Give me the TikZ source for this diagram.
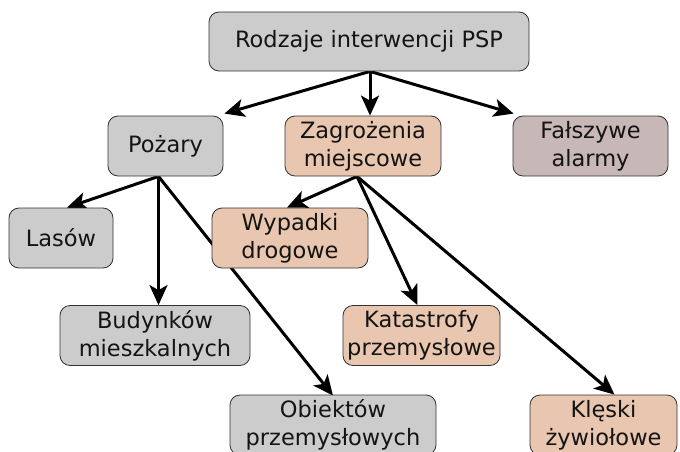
\documentclass[tikz,border=0pt]{standalone}
\usepackage{fontspec}
\setmainfont{DejaVu Sans}
\usetikzlibrary{arrows.meta,backgrounds,calc}
\definecolor{greyfill}{RGB}{204,204,204}
\definecolor{peach}{RGB}{233,198,175}
\definecolor{mauve}{RGB}{200,183,183}
\definecolor{edgegrey}{RGB}{50,50,50}
\definecolor{txt}{RGB}{20,20,20}
\tikzset{
  box/.style={draw=edgegrey, line width=0.8pt, rounded corners=10pt, minimum height=60pt,
    inner sep=0pt, align=center, text=txt, font=\fontsize{22.5}{28}\selectfont},
  greybox/.style={box, fill=greyfill},
  peachbox/.style={box, fill=peach},
  mauvebox/.style={box, fill=mauve},
  arr/.style={line width=3pt, -{Stealth[length=20pt,width=18pt,inset=5pt]}, black}
}
\begin{document}
\begin{tikzpicture}[x=1pt,y=-1pt]
\useasboundingbox (0,0) rectangle (680,452);
\node[greybox, minimum width=320pt, minimum height=59pt] (top) at (369,41.5) {Rodzaje interwencji PSP};
\node[greybox, minimum width=115pt] (pozary) at (165.5,146) {Pożary};
\node[peachbox, minimum width=156pt] (zagr) at (363,146) {Zagrożenia\\miejscowe};
\node[mauvebox, minimum width=155pt] (falsz) at (590.5,146) {Fałszywe\\alarmy};
\node[greybox, minimum width=104pt] (lasow) at (61,238) {Lasów};
\node[peachbox, minimum width=156pt] (wypadki) at (290,238) {Wypadki\\drogowe};
\node[greybox, minimum width=190pt] (budynkow) at (155,335.5) {Budynków\\mieszkalnych};
\node[peachbox, minimum width=157pt] (katastrofy) at (421.5,335.5) {Katastrofy\\przemysłowe};
\node[greybox, minimum width=206pt] (obiektow) at (333,425) {Obiektów\\przemysłowych};
\node[peachbox, minimum width=147pt] (kleski) at (603.5,425) {Klęski\\żywiołowe};
\coordinate (ts) at ([xshift=1pt]top.south);
\coordinate (ps) at ([xshift=-7pt]pozary.south);
\coordinate (zs) at ([xshift=-6pt]zagr.south);
\begin{pgfonlayer}{background}
\draw[arr] (ts) -- ([xshift=1pt,yshift=2pt]pozary.north east);
\draw[arr] (ts) -- (ts |- zagr.north);
\draw[arr] (ts) -- ([xshift=1pt,yshift=2pt]falsz.north west);
\draw[arr] (ps) -- ([xshift=6pt]lasow.north);
\draw[arr] (ps) -- (ps |- budynkow.north);
\draw[arr] (ps) -- ([yshift=-1pt]obiektow.north);
\draw[arr] (zs) -- ([xshift=-3pt]wypadki.north);
\draw[arr] (zs) -- ([xshift=-4pt]katastrofy.north);
\draw[arr] (zs) -- ([xshift=11pt]kleski.north);
\end{pgfonlayer}
\end{tikzpicture}
\end{document}
